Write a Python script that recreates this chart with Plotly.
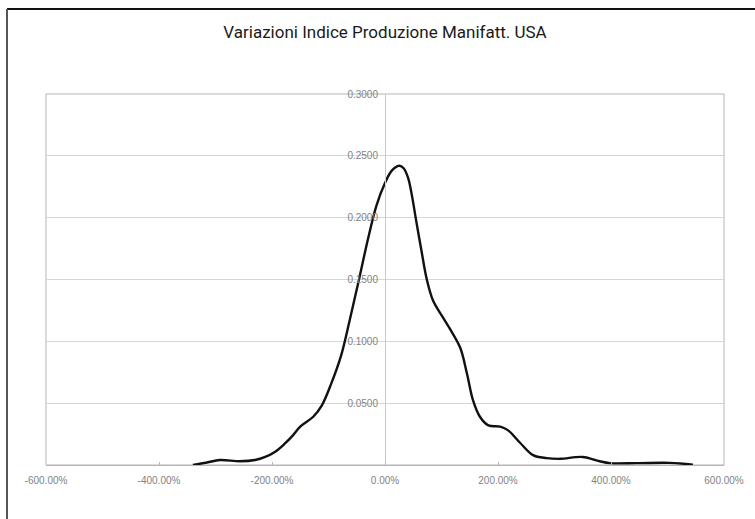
import plotly.graph_objects as go

# Density estimate of the monthly changes (x as fraction: 1.0 = 100%)
variazione = [-3.40, -3.15, -2.92, -2.57, -2.30, -2.12, -1.95, -1.78, -1.63, -1.50,
              -1.27, -1.12, -0.95, -0.78, -0.62, -0.46, -0.30, -0.15, 0.00, 0.12,
              0.25, 0.33, 0.41, 0.48, 0.55, 0.65, 0.74, 0.85, 1.03,
              1.15, 1.33, 1.45, 1.56, 1.68, 1.83, 2.04, 2.18, 2.39, 2.62,
              2.86, 3.10, 3.50, 3.80, 3.98, 4.46, 5.04, 5.45]
densita = [0.0, 0.002, 0.004, 0.003, 0.004, 0.0065, 0.0105, 0.017, 0.024, 0.031,
           0.039, 0.048, 0.066, 0.088, 0.118, 0.150, 0.183, 0.210, 0.228, 0.238,
           0.242, 0.240, 0.232, 0.217, 0.198, 0.172, 0.150, 0.133, 0.119,
           0.110, 0.095, 0.074, 0.052, 0.039, 0.032, 0.031, 0.028, 0.018, 0.008,
           0.0056, 0.005, 0.0065, 0.003, 0.0015, 0.0015, 0.0017, 0.0003]

x_tick_vals = [-6, -4, -2, 0, 2, 4, 6]
x_tick_text = ["-600.00%", "-400.00%", "-200.00%", "0.00%", "200.00%", "400.00%", "600.00%"]
y_tick_vals = [0.05, 0.10, 0.15, 0.20, 0.25, 0.30]
y_tick_text = ["0.0500", "0.1000", "0.1500", "0.2000", "0.2500", "0.3000"]

fig = go.Figure()
fig.add_trace(go.Scatter(
    x=variazione, y=densita, mode="lines",
    line=dict(color="#111111", width=2.4, shape="spline", smoothing=1.0),
    hoverinfo="skip", showlegend=False,
))

tick_font = dict(family="Liberation Sans, Arial, sans-serif", size=10, color="#828282")

fig.update_layout(
    width=755, height=519,
    margin=dict(l=46, r=31, t=94, b=54),
    paper_bgcolor="white", plot_bgcolor="white",
    title=dict(
        text="Variazioni Indice Produzione Manifatt. USA",
        x=0.51, xanchor="center", y=1 - 32 / 519, yanchor="middle",
        font=dict(family="Roboto, sans-serif", size=17, color="#1a1a1a"),
    ),
    xaxis=dict(
        range=[-6, 6], tickvals=x_tick_vals, ticktext=x_tick_text,
        showgrid=False, zeroline=False,
        showline=True, linecolor="#b5b5b5", linewidth=1,
        ticks="inside", ticklen=3, tickcolor="#b5b5b5",
        ticklabelstandoff=6,
        tickfont=tick_font, fixedrange=True,
    ),
    yaxis=dict(
        range=[0, 0.3], tickvals=y_tick_vals, ticktext=y_tick_text,
        anchor="free", position=0.5,
        showgrid=True, gridcolor="#d6d6d6", gridwidth=1,
        zeroline=False, showline=True, linecolor="#c8c8c8", linewidth=1,
        ticks="", ticklabelstandoff=5,
        tickfont=tick_font, fixedrange=True,
    ),
    shapes=[
        # plot-area frame
        dict(type="rect", xref="paper", yref="paper", x0=0, x1=1, y0=0, y1=1,
             line=dict(color="#b5b5b5", width=1), layer="below"),
        # outer chart frame (top and left edges)
        dict(type="line", xref="paper", yref="paper",
             x0=-39 / 678, x1=1.1, y0=1 + 85 / 371, y1=1 + 85 / 371,
             line=dict(color="#111111", width=2)),
        dict(type="line", xref="paper", yref="paper",
             x0=-39 / 678, x1=-39 / 678, y0=-0.2, y1=1 + 85 / 371,
             line=dict(color="#555555", width=2)),
    ],
)

fig.write_html("out.html")
